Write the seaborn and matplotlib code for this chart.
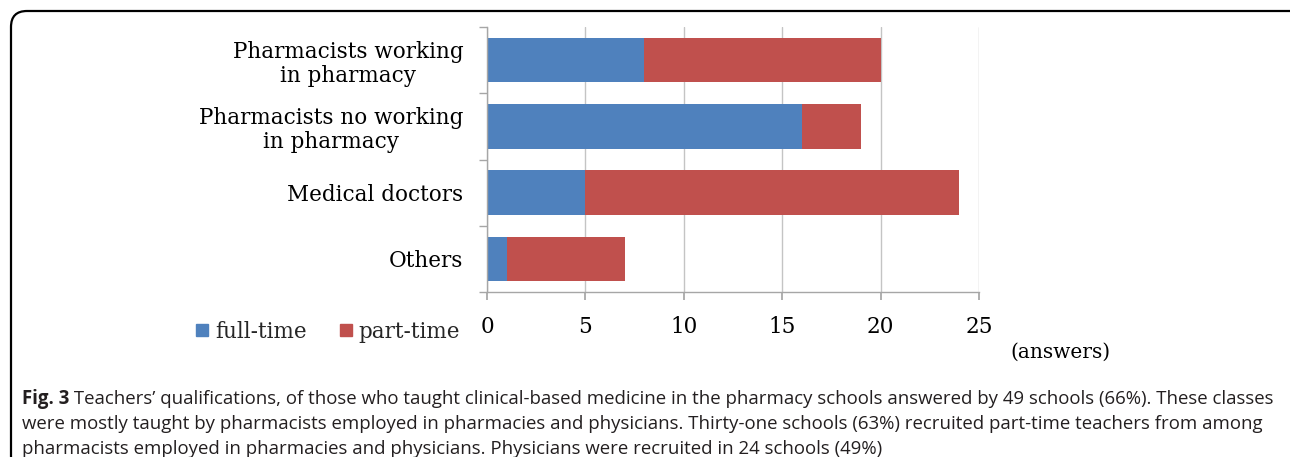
import numpy as np
import pandas as pd
import seaborn as sns
import matplotlib.pyplot as plt
from matplotlib.lines import Line2D
from matplotlib.patches import FancyBboxPatch
from matplotlib.transforms import IdentityTransform

# data
categories = [
    "Pharmacists working\nin pharmacy",
    "Pharmacists no working\nin pharmacy",
    "Medical doctors",
    "Others",
]
full_time = [8, 16, 5, 1]
part_time = [12, 3, 19, 6]
x_ticks = [0, 5, 10, 15, 20, 25]

caption_bold = "Fig. 3"
caption_lines = [
    " Teachers\u2019 qualifications, of those who taught clinical-based medicine in the pharmacy schools answered by 49 schools (66%). These classes",
    "were mostly taught by pharmacists employed in pharmacies and physicians. Thirty-one schools (63%) recruited part-time teachers from among",
    "pharmacists employed in pharmacies and physicians. Physicians were recruited in 24 schools (49%)",
]

BLUE = "#4F81BD"
RED = "#C0504D"
SERIF = "DejaVu Serif"
W, H = 1290, 457

df = pd.DataFrame({
    "category": categories,
    "full": full_time,
    "part": part_time,
})
df["total"] = df["full"] + df["part"]

sns.set_theme(style="white")
plt.rcParams["font.family"] = SERIF

fig = plt.figure(figsize=(W / 100, H / 100), dpi=100)
ax = fig.add_axes([487 / W, 1 - 292 / H, (979 - 487) / W, (292 - 27) / H])

# stacked bars: total in red, full-time drawn over it in blue
sns.barplot(data=df, y="category", x="total", color=RED, width=0.67,
            orient="h", ax=ax, saturation=1, linewidth=0)
sns.barplot(data=df, y="category", x="full", color=BLUE, width=0.67,
            orient="h", ax=ax, saturation=1, linewidth=0)

ax.set_xlim(0, 25)
ax.set_ylim(3.5, -0.5)
ax.set_xticks(x_ticks)
ax.set_xticklabels([str(t) for t in x_ticks])
ax.set_xlabel("")
ax.set_ylabel("")
ax.grid(axis="x", color="#c4c4c4", linewidth=1)
ax.set_axisbelow(True)

for side in ["top", "right"]:
    ax.spines[side].set_visible(False)
for side in ["left", "bottom"]:
    ax.spines[side].set_color("#a6a6a6")
    ax.spines[side].set_linewidth(1)

ax.set_yticks(np.arange(-0.5, 4, 1), minor=True)
ax.tick_params(axis="y", which="major", length=0, pad=17, labelsize=15.5,
               labelcolor="black")
ax.tick_params(axis="y", which="minor", left=True, length=6, color="#a6a6a6")
ax.tick_params(axis="x", which="major", bottom=True, length=6, color="#a6a6a6",
               pad=11, labelsize=15.5, labelcolor="black")
for lab in ax.get_yticklabels():
    lab.set_multialignment("center")
    lab.set_linespacing(1.15)

fig.text(1060 / W, 1 - 352 / H, "(answers)", ha="center", va="center",
         fontsize=14.5, color="black")

handles = [
    Line2D([], [], marker="s", linestyle="", color=BLUE, markersize=9),
    Line2D([], [], marker="s", linestyle="", color=RED, markersize=9),
]
fig.legend(handles, ["full-time", "part-time"], loc="center left",
           bbox_to_anchor=(196 / W, 1 - 332 / H), ncol=2, frameon=False,
           fontsize=15.5, handletextpad=0.3, columnspacing=1.5,
           borderpad=0, borderaxespad=0, handlelength=0.6)

# caption
cap_font = dict(family="Open Sans", fontsize=13.4, color="#231f20", va="center")
ys = [399, 424, 449]
bold = fig.text(22 / W, 1 - ys[0] / H, caption_bold, weight="bold", **cap_font)
fig.canvas.draw()
bb = bold.get_window_extent()
fig.text(bb.x1 / W, 1 - ys[0] / H, caption_lines[0], **cap_font)
for y, line in zip(ys[1:], caption_lines[1:]):
    fig.text(22 / W, 1 - y / H, line, **cap_font)

# rounded frame that runs off the right and bottom edges
frame = FancyBboxPatch((11, -15), 1300, H - 11 + 15,
                       boxstyle="round,pad=0,rounding_size=16",
                       transform=IdentityTransform(), fill=False,
                       edgecolor="black", linewidth=1.6, clip_on=False)
fig.add_artist(frame)

fig.savefig("out.png", dpi=100)
